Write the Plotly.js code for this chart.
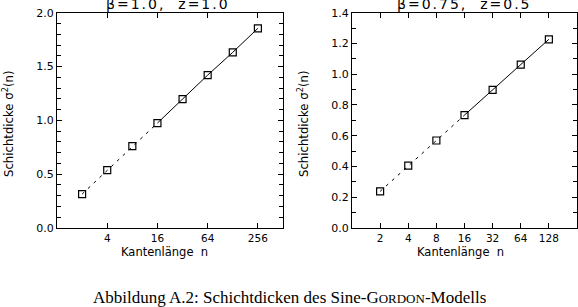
<!DOCTYPE html>
<html>
<head>
<meta charset="utf-8">
<script src="https://cdn.plot.ly/plotly-3.0.1.min.js"></script>
<style>
html,body{margin:0;padding:0;background:#fff;}
g.annotation[data-index="0"] text, g.annotation[data-index="1"] text {letter-spacing: 2px;}
</style>
</head>
<body>
<div id="chart" style="width:578px;height:307px;"></div>
<script>
// Left panel: beta=1.0, z=1.0
const nLeft = [2, 4, 8, 16, 32, 64, 128, 256];
const sigmaLeft = [0.315, 0.537, 0.76, 0.975, 1.197, 1.42, 1.632, 1.855];
// Right panel: beta=0.75, z=0.5
const nRight = [2, 4, 8, 16, 32, 64, 128];
const sigmaRight = [0.238, 0.405, 0.569, 0.734, 0.898, 1.062, 1.227];
// split index: dashed up to n=16, solid from n=16
const splitLeft = 3;
const splitRight = 3;
const ticksLeft = [4, 16, 64, 256];
const ticksRight = [2, 4, 8, 16, 32, 64, 128];

const yTickFont = {family: 'DejaVu Sans', size: 11, color: '#000'};
const xTickFont = {family: 'DejaVu Sans', size: 10.5, color: '#000'};
const lineCol = '#000';
const mk = {symbol: 'square-open', size: 7, color: lineCol, line: {width: 1.2, color: lineCol}};

function seg(x, y, xa, ya, dash) {
  return {
    x: x, y: y, xaxis: xa, yaxis: ya, type: 'scatter', mode: 'lines',
    line: {color: lineCol, width: 1, dash: dash},
    showlegend: false, hoverinfo: 'skip'
  };
}

const data = [
  seg(nLeft.slice(0, splitLeft + 1), sigmaLeft.slice(0, splitLeft + 1), 'x', 'y', '3px,5px'),
  seg(nLeft.slice(splitLeft), sigmaLeft.slice(splitLeft), 'x', 'y', 'solid'),
  {x: nLeft, y: sigmaLeft, xaxis: 'x', yaxis: 'y', type: 'scatter', mode: 'markers',
   marker: mk, showlegend: false, hoverinfo: 'skip'},
  seg(nRight.slice(0, splitRight + 1), sigmaRight.slice(0, splitRight + 1), 'x2', 'y2', '3px,5px'),
  seg(nRight.slice(splitRight), sigmaRight.slice(splitRight), 'x2', 'y2', 'solid'),
  {x: nRight, y: sigmaRight, xaxis: 'x2', yaxis: 'y2', type: 'scatter', mode: 'markers',
   marker: mk, showlegend: false, hoverinfo: 'skip'}
];

const W = 578, H = 307;
const yDom = [1 - 228 / H, 1 - 12.7 / H];

function xAxis(dom, range, tv) {
  return {
    domain: dom, type: 'log', range: range, tickvals: tv, ticktext: tv.map(String),
    ticks: 'inside', ticklen: 5, tickwidth: 1, tickcolor: '#000',
    showline: true, linecolor: '#000', linewidth: 1, mirror: 'ticks',
    showgrid: false, zeroline: false, tickfont: xTickFont, fixedrange: true
  };
}
function yAxis(dom, range, dt, anchor) {
  return {
    domain: dom, range: range, dtick: dt, tickformat: '.1f', anchor: anchor,
    ticks: 'inside', ticklen: 5, tickwidth: 1, tickcolor: '#000',
    minor: {dtick: 0.1, ticks: 'inside', ticklen: 4, tickcolor: '#000', showgrid: false},
    showline: true, linecolor: '#000', linewidth: 1, mirror: 'ticks',
    showgrid: false, zeroline: false, tickfont: yTickFont, fixedrange: true
  };
}

const layout = {
  width: W, height: H,
  margin: {l: 0, r: 0, t: 0, b: 0},
  paper_bgcolor: '#fff', plot_bgcolor: '#fff',
  xaxis: Object.assign(xAxis([57 / W, 283 / W], [0, Math.log10(512)], ticksLeft), {anchor: 'y'}),
  yaxis: yAxis(yDom, [0, 2], 0.5, 'x'),
  xaxis2: Object.assign(xAxis([352 / W, 577 / W], [0, Math.log10(256)], ticksRight), {anchor: 'y2'}),
  yaxis2: yAxis(yDom, [0, 1.4], 0.2, 'x2'),
  annotations: [
    {text: 'β=1.0,  z=1.0', x: 168 / W, y: 1 - 4 / H, xref: 'paper', yref: 'paper',
     xanchor: 'center', yanchor: 'middle', showarrow: false,
     font: {family: 'DejaVu Sans', size: 14, color: '#000'}},
    {text: 'β=0.75,  z=0.5', x: 464 / W, y: 1 - 4 / H, xref: 'paper', yref: 'paper',
     xanchor: 'center', yanchor: 'middle', showarrow: false,
     font: {family: 'DejaVu Sans', size: 14, color: '#000'}},
    {text: 'Kantenlänge  n', x: 164 / W, y: 1 - 252 / H, xref: 'paper', yref: 'paper',
     xanchor: 'center', yanchor: 'middle', showarrow: false,
     font: {family: 'DejaVu Sans', size: 11.5, color: '#000'}},
    {text: 'Kantenlänge  n', x: 460 / W, y: 1 - 252 / H, xref: 'paper', yref: 'paper',
     xanchor: 'center', yanchor: 'middle', showarrow: false,
     font: {family: 'DejaVu Sans', size: 11.5, color: '#000'}},
    {text: 'Schichtdicke σ<sup>2</sup>(n)', x: 8 / W, y: 1 - 124 / H, xref: 'paper', yref: 'paper',
     xanchor: 'center', yanchor: 'middle', showarrow: false, textangle: -90,
     font: {family: 'Liberation Sans Narrow, DejaVu Sans Condensed, sans-serif', size: 13, color: '#000'}},
    {text: 'Schichtdicke σ<sup>2</sup>(n)', x: 303 / W, y: 1 - 124 / H, xref: 'paper', yref: 'paper',
     xanchor: 'center', yanchor: 'middle', showarrow: false, textangle: -90,
     font: {family: 'Liberation Sans Narrow, DejaVu Sans Condensed, sans-serif', size: 13, color: '#000'}},
    {text: 'Abbildung A.2: Schichtdicken des Sine-G<span style="font-size:13px">ORDON</span>-Modells',
     x: 289 / W, y: 1 - 297 / H, xref: 'paper', yref: 'paper',
     xanchor: 'center', yanchor: 'middle', showarrow: false,
     font: {family: 'Liberation Serif, DejaVu Serif, serif', size: 17, color: '#000'}}
  ]
};

Plotly.newPlot('chart', data, layout, {staticPlot: true, displayModeBar: false});
</script>
</body>
</html>
